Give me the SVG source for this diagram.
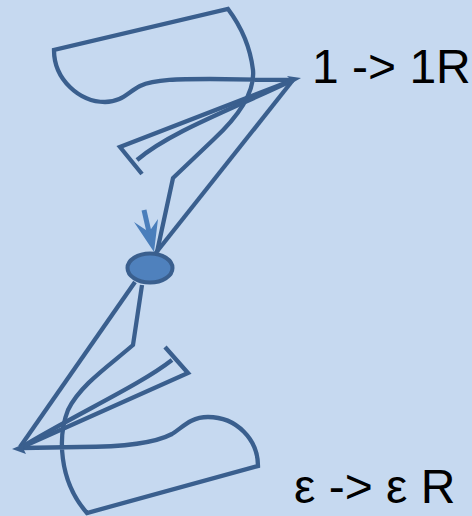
<svg xmlns="http://www.w3.org/2000/svg" width="472" height="516" viewBox="0 0 472 516">
<style>
.c{fill:none;stroke:#3A5F8E;stroke-width:4.3;stroke-linejoin:miter;stroke-linecap:butt}
.h{fill:#3A5F8E;stroke:none}
.t{font-family:"Liberation Sans",Arial,sans-serif;font-size:48px;fill:#000}
</style>
<rect width="472" height="516" fill="#C6D9F0"/>
<g id="connectors">
<path class="c" d="M157,252 L173,178 L213,140 C240,115 255,92 253,70 C250,45 240,25 228,9 L54,50 C54,80 80,102 105,102 C122,102 128,92 140,86 C155,79 180,79 210,79 L292,80"/>
<path class="c" d="M293,80 L155,254"/>
<path class="c" d="M293,80 L120,147 L142,174"/>
<path class="c" d="M293,80 C230,110 170,132 137,160"/>
<polygon class="h" points="301,78 287,76 291,80 287,86"/>
<path class="c" d="M142,285 L133,345 C110,365 80,385 68,410 C58,435 58,480 87,513 L258,466 C258,440 237,417 208,417 C190,417 182,428 172,434 C155,443 120,447 80,447 L22,448"/>
<path class="c" d="M135,282 L20,447"/>
<path class="c" d="M20,448 L188,373 L165,347"/>
<path class="c" d="M20,448 C80,412 140,385 172,360"/>
<polygon class="h" points="12,449 26,443 23,448 26,454"/>
<path d="M144,210 L149,232" fill="none" stroke="#4A7EBB" stroke-width="5"/>
<polygon fill="#4A7EBB" points="154,252 134,222 149,232 158,219"/>
</g>
<g id="state">
<ellipse cx="150" cy="268" rx="22.5" ry="14.5" fill="#4F81BD" stroke="#3A5F8E" stroke-width="4"/>
</g>
<g id="label-top">
<text class="t" x="312" y="83">1 -&gt; 1R</text>
</g>
<g id="label-bottom">
<text class="t" x="294" y="503">ε -&gt; ε R</text>
</g>
</svg>
